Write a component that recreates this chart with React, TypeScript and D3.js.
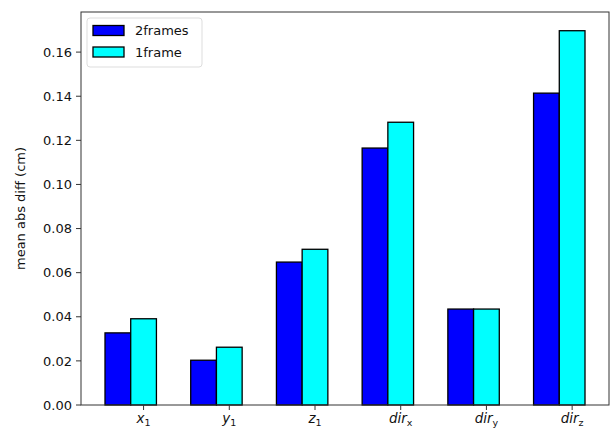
import React from "react";
import * as d3 from "d3";

const categories = ["x1", "y1", "z1", "dirx", "diry", "dirz"];
const labelMain = ["x", "y", "z", "dir", "dir", "dir"];
const labelSub = ["1", "1", "1", "x", "y", "z"];
const series2frames = [0.0327, 0.0203, 0.0648, 0.1165, 0.0435, 0.1414];
const series1frame = [0.0391, 0.0262, 0.0706, 0.1282, 0.0435, 0.1697];
const yTicks = [0, 0.02, 0.04, 0.06, 0.08, 0.1, 0.12, 0.14, 0.16];
const seriesNames = ["2frames", "1frame"];
const seriesColors = ["#0000ff", "#00ffff"];

const W = 612;
const H = 428;
const left = 81;
const right = 609;
const top = 12;
const bottom = 405;
const barW = 0.3;

export default function App() {
  const n = categories.length;
  const maxV = d3.max(series1frame.concat(series2frames)) as number;
  const xMin = -barW - barW / 2;
  const xMax = n - 1 + barW / 2;
  const pad = (xMax - xMin) * 0.05;
  const x = d3.scaleLinear().domain([xMin - pad, xMax + pad]).range([left, right]);
  const y = d3.scaleLinear().domain([0, maxV * 1.05]).range([bottom, top]);
  const bw = x(barW) - x(0);
  const font = "DejaVu Sans, sans-serif";
  const allSeries = [series2frames, series1frame];
  const offsets = [-barW, 0];

  return (
    <svg width={W} height={H} style={{ position: "absolute", left: 0, top: 0 }}>
      <rect x={0} y={0} width={W} height={H} fill="#fff" />
      {allSeries.map((s, si) =>
        s.map((v, i) => (
          <rect
            key={`${si}-${i}`}
            x={x(i + offsets[si]) - bw / 2}
            y={y(v)}
            width={bw}
            height={y(0) - y(v)}
            fill={seriesColors[si]}
            stroke="#000"
            strokeWidth={1.3}
          />
        ))
      )}
      <rect x={left} y={top} width={right - left} height={bottom - top} fill="none" stroke="#333" strokeWidth={1} />
      {yTicks.map((t) => (
        <g key={t}>
          <line x1={left - 5} x2={left} y1={y(t)} y2={y(t)} stroke="#333" strokeWidth={1} />
          <text x={left - 9} y={y(t)} dy="0.36em" textAnchor="end" fontFamily={font} fontSize={13} fill="#111">
            {t.toFixed(2)}
          </text>
        </g>
      ))}
      {categories.map((c, i) => (
        <g key={c}>
          <line x1={x(i)} x2={x(i)} y1={bottom} y2={bottom + 5} stroke="#333" strokeWidth={1} />
          <text x={x(i)} y={bottom + 18} textAnchor="middle" fontFamily={font} fontSize={13.5} fontStyle="italic" fill="#111">
            {labelMain[i]}
            <tspan fontSize={9.5} dy={3} fontStyle="normal">{labelSub[i]}</tspan>
          </text>
        </g>
      ))}
      <text
        transform={`translate(25,${(top + bottom) / 2}) rotate(-90)`}
        textAnchor="middle"
        fontFamily={font}
        fontSize={13}
        fill="#111"
      >
        mean abs diff (cm)
      </text>
      <rect x={87} y={18} width={115} height={49} rx={3} fill="#fff" fillOpacity={0.8} stroke="#ddd" strokeWidth={1} />
      {seriesNames.map((nm, i) => (
        <g key={nm}>
          <rect x={93} y={25.5 + i * 21.5} width={31} height={10} fill={seriesColors[i]} stroke="#000" strokeWidth={1.3} />
          <text x={135} y={35 + i * 21.5} fontFamily={font} fontSize={13} fill="#111">
            {nm}
          </text>
        </g>
      ))}
    </svg>
  );
}
